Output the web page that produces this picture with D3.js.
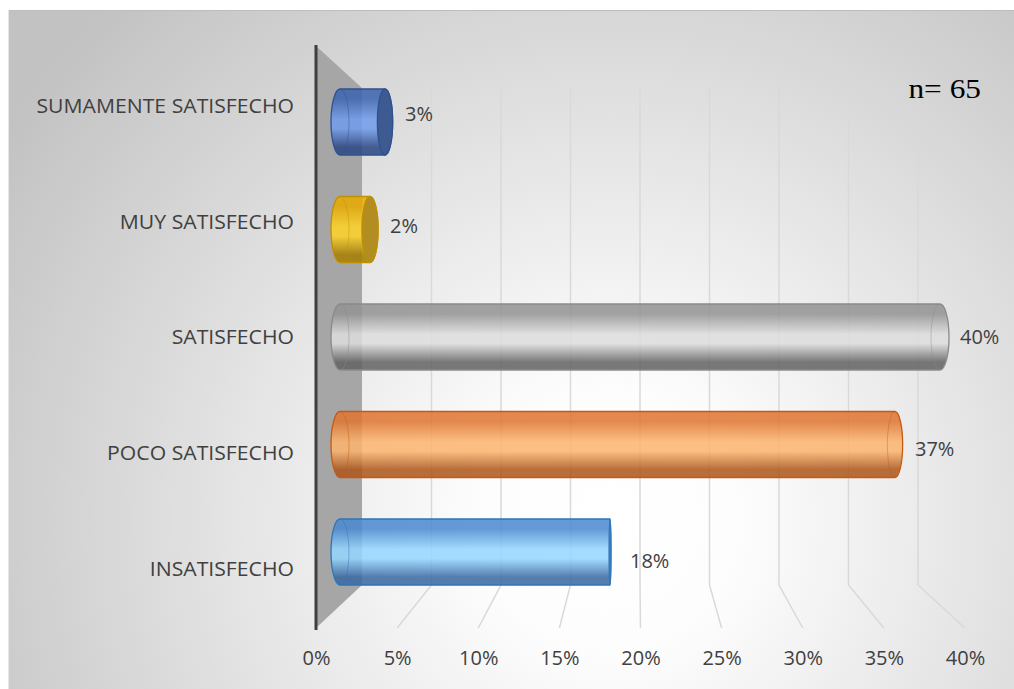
<!DOCTYPE html>
<html>
<head>
<meta charset="utf-8">
<script src="https://cdn.jsdelivr.net/npm/d3@7/dist/d3.min.js"></script>
<style>
  html, body { margin: 0; padding: 0; background: #ffffff; }
  svg { display: block; }
</style>
</head>
<body>
<svg id="chart" width="1014" height="689"></svg>
<script>
// Satisfaction levels, top to bottom
const categories = [
  "SUMAMENTE SATISFECHO",
  "MUY SATISFECHO",
  "SATISFECHO",
  "POCO SATISFECHO",
  "INSATISFECHO"
];
// Share of respondents (%) for each level
const percentages = [3, 2, 40, 37, 18];
// Horizontal axis ticks (%)
const tickValues = [0, 5, 10, 15, 20, 25, 30, 35, 40];
const sampleLabel = "n= 65";

// Cylinder colours: [top, highlight, bottom, outline, end face]
const palette = [
  ["#3c64b0", "#729cec", "#2a4784", "#2f528f", "#3d5a91"],
  ["#e8aa00", "#ffd428", "#a67e00", "#bf9000", "#b28e22"],
  ["#939393", "#dddddd", "#636363", "#8a8a8a", "#9a9a9a"],
  ["#df7532", "#fcb46e", "#ad561b", "#c55a11", "#d98040"],
  ["#4a8ad0", "#95d6ff", "#3968a3", "#2e75b6", "#4a88c8"]
];

const svg = d3.select("#chart");
const W = 1014, H = 689;
const defs = svg.append("defs");

// Chart area background: soft radial gradient
const bg = defs.append("radialGradient")
  .attr("id", "bgGrad")
  .attr("gradientUnits", "userSpaceOnUse")
  .attr("cx", 610).attr("cy", 520).attr("r", 720);
bg.append("stop").attr("offset", 0).attr("stop-color", "#ffffff");
bg.append("stop").attr("offset", 0.18).attr("stop-color", "#fdfdfd");
bg.append("stop").attr("offset", 1).attr("stop-color", "#c2c2c2");

svg.append("rect").attr("width", W).attr("height", H).attr("fill", "#ffffff");
svg.append("rect")
  .attr("x", 8).attr("y", 10).attr("width", W - 8).attr("height", H - 10)
  .attr("fill", "url(#bgGrad)");
svg.append("line").attr("x1", 8).attr("x2", W).attr("y1", 10.5).attr("y2", 10.5)
  .attr("stroke", "#bdbdbd").attr("stroke-width", 1);
svg.append("line").attr("x1", 8.5).attr("x2", 8.5).attr("y1", 10).attr("y2", H)
  .attr("stroke", "#e6e6e6").attr("stroke-width", 1);

// Perspective: back wall plane, front floor edge and mid-depth bar plane
const backTop = 88, backBottom = 585, frontY = 628;
const xBack = d3.scaleLinear().domain([0, 40]).range([362, 918]);
const xFront = d3.scaleLinear().domain([0, 40]).range([316, 965]);
const xMid = d3.scaleLinear().domain([0, 40]).range([340, 940]);
const vanishX = 640;
const capK = 0.03;

// Category positions: bars at mid depth, labels on the front plane
const yMid = d3.scalePoint().domain(categories).range([68.25, 605.75]).padding(0.5);
const yFront = d3.scalePoint().domain(categories).range([48.1, 626.9]).padding(0.5);
const barR = 33;

// Gridlines: vertical on back wall, slanting across the floor
const grid = svg.append("g");
tickValues.filter(v => v > 0).forEach(v => {
  grid.append("polyline")
    .attr("points", [[xBack(v), backTop], [xBack(v), backBottom], [xFront(v), frontY]].map(p => p.join(",")).join(" "))
    .attr("fill", "none")
    .attr("stroke", "#d9d9d9")
    .attr("stroke-width", 1.5);
});

// Side wall
svg.append("polygon")
  .attr("points", [[316, 46], [362, backTop], [362, backBottom], [316, frontY]].map(p => p.join(",")).join(" "))
  .attr("fill", "#a6a6a6");
svg.append("line")
  .attr("x1", 316).attr("x2", 316).attr("y1", 45).attr("y2", 630)
  .attr("stroke", "#3f3f3f").attr("stroke-width", 3);

// Cylinder gradients
palette.forEach((c, i) => {
  const g = defs.append("linearGradient")
    .attr("id", "cyl" + i)
    .attr("x1", 0).attr("y1", 0).attr("x2", 0).attr("y2", 1);
  g.append("stop").attr("offset", 0).attr("stop-color", c[0]);
  g.append("stop").attr("offset", 0.15).attr("stop-color", c[0]);
  g.append("stop").attr("offset", 0.46).attr("stop-color", c[1]);
  g.append("stop").attr("offset", 0.6).attr("stop-color", c[1]);
  g.append("stop").attr("offset", 0.88).attr("stop-color", c[2]);
  g.append("stop").attr("offset", 1).attr("stop-color", c[2]);
});

// Cylinders
const bars = svg.append("g");
categories.forEach((cat, i) => {
  const v = percentages[i];
  const c = palette[i];
  const yc = yMid(cat);
  const top = yc - barR, bot = yc + barR;
  const x0 = xMid(0), x1 = xMid(v);
  const rx0 = Math.max(0.5, Math.abs(capK * (x0 - vanishX)));
  const rx1 = Math.max(0.5, Math.abs(capK * (x1 - vanishX)));

  const body = `M${x0},${top} L${x1},${top} A${rx1},${barR} 0 0 1 ${x1},${bot} L${x0},${bot} A${rx0},${barR} 0 0 1 ${x0},${top} Z`;
  bars.append("path")
    .attr("d", body)
    .attr("fill", `url(#cyl${i})`)
    .attr("fill-opacity", 0.86)
    .attr("stroke", c[3])
    .attr("stroke-width", 1.3);

  // inner rim of the near end
  bars.append("path")
    .attr("d", `M${x0},${top} A${rx0},${barR} 0 0 1 ${x0},${bot}`)
    .attr("fill", "none")
    .attr("stroke", c[3])
    .attr("stroke-opacity", 0.45)
    .attr("stroke-width", 1);

  if (x1 < vanishX) {
    // end face turned toward the viewer
    bars.append("ellipse")
      .attr("cx", x1).attr("cy", yc)
      .attr("rx", rx1).attr("ry", barR)
      .attr("fill", c[4])
      .attr("stroke", c[3])
      .attr("stroke-width", 1.3);
  } else {
    bars.append("path")
      .attr("d", `M${x1},${top} A${rx1},${barR} 0 0 0 ${x1},${bot}`)
      .attr("fill", "none")
      .attr("stroke", c[3])
      .attr("stroke-opacity", 0.4)
      .attr("stroke-width", 1);
  }
});

const font = "'Open Sans', 'DejaVu Sans', sans-serif";
const textColor = "#404040";

// Value labels
svg.append("g").selectAll("text")
  .data(categories)
  .join("text")
  .attr("x", (d, i) => xMid(percentages[i]) + 20)
  .attr("y", d => (yMid(d) + yFront(d)) / 2)
  .attr("dy", "0.35em")
  .attr("font-family", font)
  .attr("font-size", 20)
  .attr("fill", textColor)
  .text((d, i) => percentages[i] + "%");

// Category axis
const yAxis = svg.append("g")
  .attr("transform", "translate(294,0)")
  .call(d3.axisLeft(yFront).tickSize(0).tickPadding(0));
yAxis.select(".domain").remove();
yAxis.selectAll("text")
  .attr("font-family", font)
  .attr("font-size", 20)
  .attr("transform", "scale(1.06,1)")
  .attr("fill", textColor);

// Percentage axis along the front edge
const xAxis = svg.append("g")
  .attr("transform", "translate(0,651)")
  .call(d3.axisBottom(xFront).tickValues(tickValues).tickSize(0).tickPadding(0).tickFormat(d => d + "%"));
xAxis.select(".domain").remove();
xAxis.selectAll("text")
  .attr("font-family", font)
  .attr("font-size", 20)
  .attr("fill", textColor);

// Sample size
svg.append("text")
  .attr("transform", "translate(981,98) scale(1.12,1)")
  .attr("text-anchor", "end")
  .attr("font-family", "'Liberation Serif', 'Times New Roman', serif")
  .attr("font-size", 28)
  .attr("fill", "#000000")
  .text(sampleLabel);
</script>
</body>
</html>
